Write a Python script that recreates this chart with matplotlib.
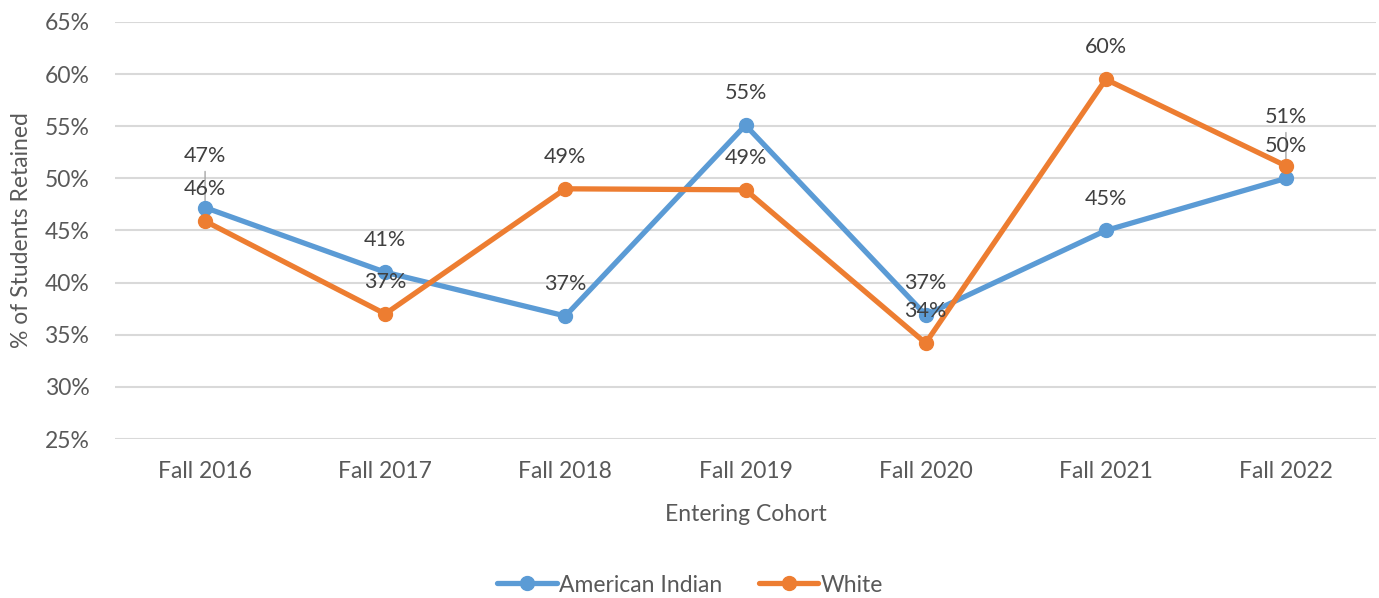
import matplotlib
matplotlib.use("Agg")
import matplotlib.pyplot as plt
from matplotlib.ticker import FuncFormatter, MultipleLocator

plt.rcParams['font.family'] = ['Lato', 'DejaVu Sans']

categories = ["Fall 2016", "Fall 2017", "Fall 2018", "Fall 2019", "Fall 2020", "Fall 2021", "Fall 2022"]
american_indian = [47.2, 41.0, 36.8, 55.1, 36.9, 45.0, 50.0]
white = [45.9, 37.0, 49.0, 48.9, 34.2, 59.5, 51.2]
series_names = ["American Indian", "White"]

colors = ["#5B9BD5", "#ED7D31"]
text_col = "#595959"
label_col = "#404040"
fs = 16.5

fig = plt.figure(figsize=(13.79, 5.98), dpi=100)
ax = fig.add_axes([115/1379, 1-439/598, (1376-115)/1379, (439-22)/598])

x = list(range(len(categories)))
lines = []
for vals, c, name in zip([american_indian, white], colors, series_names):
    ln, = ax.plot(x, vals, color=c, lw=3.8, marker='o', ms=10, label=name,
                  solid_capstyle='round', zorder=3)
    lines.append(ln)

# label offsets in points (default above point); a few moved to avoid overlap
default_off = 23
extra = {(0, 0): 37, (1, 6): 35}
for si, vals in enumerate([american_indian, white]):
    for i, v in enumerate(vals):
        off = extra.get((si, i), default_off)
        ax.annotate(f"{v:.0f}%", (i, v), xytext=(0, off), textcoords='offset points',
                    ha='center', va='center', fontsize=15.5, color=label_col, zorder=5)
        if (si, i) in extra:
            ax.annotate("", (i, v), xytext=(0, off - 11), textcoords='offset points',
                        arrowprops=dict(arrowstyle='-', color='#A6A6A6', lw=1,
                                        shrinkA=0, shrinkB=5), zorder=2)

ax.set_xlim(-0.5, 6.5)
ax.set_ylim(25, 65)
ax.yaxis.set_major_locator(MultipleLocator(5))
ax.yaxis.set_major_formatter(FuncFormatter(lambda v, p: f"{v:.0f}%"))
ax.set_xticks(x)
ax.set_xticklabels(categories)
ax.grid(axis='y', color='#D9D9D9', lw=1.5, zorder=0)
ax.set_axisbelow(True)
for s in ax.spines.values():
    s.set_visible(False)
ax.tick_params(axis='both', length=0, labelsize=fs, colors=text_col)
ax.tick_params(axis='x', pad=16)
ax.tick_params(axis='y', pad=18.5)

ax.set_xlabel("Entering Cohort", fontsize=fs, color=text_col, labelpad=16)
ax.set_ylabel("% of Students Retained", fontsize=fs, color=text_col, labelpad=9)

fig.legend(handles=lines, loc='center', bbox_to_anchor=(690/1379, 1-585/598), ncol=2,
           frameon=False, fontsize=fs, labelcolor=text_col, handlelength=2.6,
           handletextpad=0.1, columnspacing=1.6)

fig.savefig("out.png", dpi=100)
